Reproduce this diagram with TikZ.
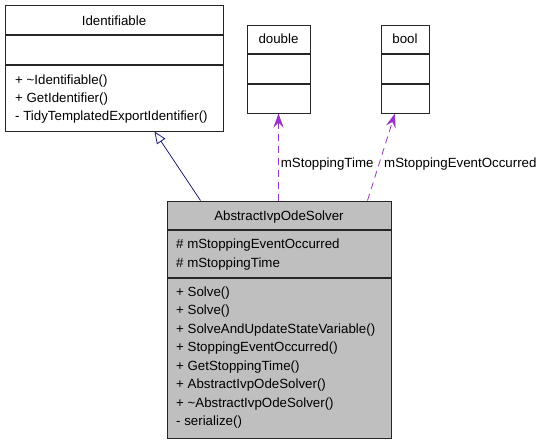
\documentclass[tikz,border=0pt]{standalone}
\usepackage{fontspec}
\setmainfont{Liberation Sans}
\usetikzlibrary{arrows.meta}
\definecolor{edgeblue}{RGB}{25,25,112}
\definecolor{edgepurple}{RGB}{154,50,205}
\definecolor{classgray}{RGB}{191,191,191}

\begin{document}
\begin{tikzpicture}[x=1pt,y=-1pt,
  every node/.style={font=\fontsize{13.3}{16}\selectfont},
  classbox/.style={draw=black!85, line width=1pt, inner sep=0pt},
  classline/.style={draw=black!85, line width=1.2pt},
  member/.style={anchor=base west, inner sep=0pt},
  title/.style={anchor=base, inner sep=0pt},
  inherit/.style={draw=edgeblue, line width=0.8pt, -{Triangle[open, length=12pt, width=10pt]}},
  usage/.style={draw=edgepurple, line width=0.8pt, dash pattern=on 7pt off 5pt, -{Stealth[length=14pt, width=10pt, inset=5pt]}}]
\useasboundingbox (0,0) rectangle (539,445);

\draw (114,68) node (ident) [classbox, minimum width=218pt, minimum height=126pt] {};
\draw[classline] (5,35) -- (223,35);
\draw[classline] (5,65) -- (223,65);
\draw (114,25) node (identname) [title] {Identifiable};
\draw (15,84) node (id1) [member] {+ \textasciitilde Identifiable()};
\draw (15,102) node (id2) [member] {+ GetIdentifier()};
\draw (15,120) node (id3) [member] {- TidyTemplatedExportIdentifier()};

\draw (278.5,69) node (double) [classbox, minimum width=63pt, minimum height=88pt] {};
\draw[classline] (247,54) -- (310,54);
\draw[classline] (247,84) -- (310,84);
\draw (278.5,43.5) node (doublename) [title] {double};

\draw (405,69) node (bool) [classbox, minimum width=48pt, minimum height=88pt] {};
\draw[classline] (381,54) -- (429,54);
\draw[classline] (381,84) -- (429,84);
\draw (405,43.5) node (boolname) [title] {bool};

\draw (279,319.5) node (solver) [classbox, fill=classgray, minimum width=224pt, minimum height=237pt] {};
\draw[classline] (167,230) -- (391,230);
\draw[classline] (167,278) -- (391,278);
\draw (279,220) node (solvername) [title] {AbstractIvpOdeSolver};
\draw (176,248.5) node (at1) [member] {\# mStoppingEventOccurred};
\draw (176,267) node (at2) [member] {\# mStoppingTime};
\draw (176,296) node (op1) [member] {+ Solve()};
\draw (176,314.5) node (op2) [member] {+ Solve()};
\draw (176,333) node (op3) [member] {+ SolveAndUpdateStateVariable()};
\draw (176,351.5) node (op4) [member] {+ StoppingEventOccurred()};
\draw (176,370) node (op5) [member] {+ GetStoppingTime()};
\draw (176,388.5) node (op6) [member] {+ AbstractIvpOdeSolver()};
\draw (176,407) node (op7) [member] {+ \textasciitilde AbstractIvpOdeSolver()};
\draw (176,425.5) node (op8) [member] {- serialize()};

\draw[inherit] ([xshift=34pt]solver.north west) -- ([xshift=150pt]ident.south west);
\draw[usage] (solver.north -| double.south) -- node (timelabel) [member, pos=0.375, xshift=2pt, text=black] {mStoppingTime} (double.south);
\draw[usage] ([xshift=-24pt]solver.north east) -- node (eventlabel) [member, pos=0.375, xshift=6pt, text=black] {mStoppingEventOccurred} ([xshift=-10pt]bool.south);
\end{tikzpicture}
\end{document}
